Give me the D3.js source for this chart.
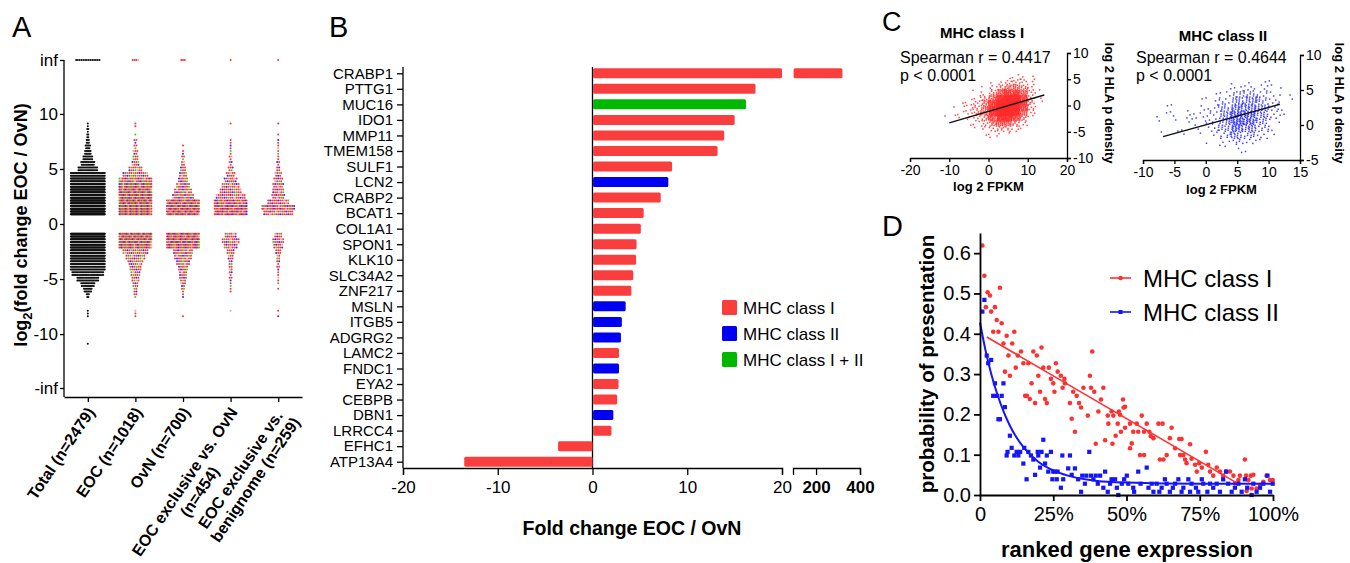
<!DOCTYPE html>
<html>
<head>
<meta charset="utf-8">
<script src="https://cdn.jsdelivr.net/npm/d3@7"></script>
<style>
    body { margin: 0; background: #fff; }
    svg { display: block; font-family: "Liberation Sans", Arial, sans-serif; }
</style>
</head>
<body>
<svg id="fig" width="1350" height="563"></svg>
<script>
/*global d3 */

// ---------------- Panel A data: dot counts per 0.5 log2 bin ----------------
var swarmLabels = [["Total (n=2479)"], ["EOC (n=1018)"], ["OvN (n=700)"],
    ["EOC exclusive vs. OvN", "(n=454)"], ["EOC exclusive vs.", "benignome (n=259)"]];
var swarmInf = [14, 4, 3, 1, 1];
var swarmTotal = [[9.0, 2], [8.5, 3], [8.0, 4], [7.5, 6], [7.0, 9], [6.5, 12], [6.0, 18], [5.5, 25], [5.0, 36],
    [4.5, 80], [4.0, 120], [3.5, 150], [3.0, 170], [2.5, 185], [2.0, 195], [1.5, 205], [1.0, 205],
    [-1.0, 165], [-1.5, 155], [-2.0, 145], [-2.5, 135], [-3.0, 115], [-3.5, 95], [-4.0, 75], [-4.5, 58],
    [-5.0, 40], [-5.5, 25], [-6.0, 15], [-6.5, 5], [-8.0, 2], [-8.5, 1], [-11.0, 1]];
var swarmEOC = [[9.0, 2], [8.0, 1], [7.5, 3], [7.0, 3], [6.5, 5], [6.0, 6], [5.5, 8], [5.0, 14], [4.5, 26],
    [4.0, 42], [3.5, 60], [3.0, 70], [2.5, 76], [2.0, 85], [1.5, 90], [1.0, 90],
    [-1.0, 82], [-1.5, 82], [-2.0, 60], [-2.5, 26], [-3.0, 20], [-3.5, 15], [-4.0, 12], [-4.5, 10],
    [-5.0, 8], [-5.5, 6], [-6.0, 4], [-6.5, 3], [-8.0, 2], [-8.5, 1]];
var swarmOvN = [[7.0, 1], [6.5, 2], [6.0, 3], [5.5, 4], [5.0, 6], [4.5, 8], [4.0, 10], [3.5, 14], [3.0, 18],
    [2.5, 22], [2.0, 62], [1.5, 76], [1.0, 76],
    [-1.0, 70], [-1.5, 76], [-2.0, 56], [-2.5, 20], [-3.0, 18], [-3.5, 14], [-4.0, 10], [-4.5, 8],
    [-5.0, 7], [-5.5, 5], [-6.0, 3], [-6.5, 2], [-8.5, 1]];
var swarmExclOvN = [[9.0, 1], [7.5, 2], [7.0, 2], [6.5, 2], [6.0, 3], [5.5, 3], [5.0, 5], [4.5, 9], [4.0, 13],
    [3.5, 18], [3.0, 22], [2.5, 30], [2.0, 46], [1.5, 56], [1.0, 56],
    [-1.0, 12], [-1.5, 18], [-2.0, 14], [-2.5, 8], [-3.0, 6], [-3.5, 4], [-4.0, 4], [-4.5, 3],
    [-5.0, 3], [-5.5, 2], [-6.0, 2], [-8.0, 1]];
var swarmExclBenign = [[9.0, 1], [8.0, 1], [7.5, 2], [7.0, 2], [6.5, 2], [6.0, 2], [5.5, 3], [5.0, 4], [4.5, 7],
    [4.0, 9], [3.5, 11], [3.0, 12], [2.5, 13], [2.0, 22], [1.5, 40], [1.0, 30],
    [-1.0, 8], [-1.5, 12], [-2.0, 10], [-2.5, 6], [-3.0, 4], [-3.5, 3], [-4.0, 3], [-4.5, 2],
    [-5.0, 2], [-5.5, 1], [-6.0, 1], [-8.0, 1], [-8.5, 1]];
var swarmData = [swarmTotal, swarmEOC, swarmOvN, swarmExclOvN, swarmExclBenign];
// colour order of the dots inside each column (k black, r red, g green, b blue, p pink)
var swarmColors = ["k", "rrgrrbrrgprrbrg", "rrbrrgrprrbrrg", "rrrbrgrrprrb", "rrbrrprgrrbr"];

// ---------------- Panel B data ----------------
var geneNames = ["CRABP1", "PTTG1", "MUC16", "IDO1", "MMP11", "TMEM158", "SULF1", "LCN2", "CRABP2", "BCAT1",
    "COL1A1", "SPON1", "KLK10", "SLC34A2", "ZNF217", "MSLN", "ITGB5", "ADGRG2", "LAMC2", "FNDC1", "EYA2",
    "CEBPB", "DBN1", "LRRCC4", "EFHC1", "ATP13A4"];
var geneFold = [320, 17.2, 16.2, 15.0, 13.9, 13.2, 8.4, 8.0, 7.2, 5.4, 5.1, 4.65, 4.6, 4.3, 4.1, 3.5, 3.1, 3.0,
    2.8, 2.8, 2.75, 2.6, 2.2, 2.0, -3.7, -13.6];
var geneClass = ["I", "I", "I+II", "I", "I", "I", "I", "II", "I", "I", "I", "I", "I", "I", "I", "II", "II", "II",
    "I", "II", "I", "I", "II", "I", "I", "I"];
var classNames = ["I", "II", "I+II"];
var classLabels = ["MHC class I", "MHC class II", "MHC class I + II"];

// ---------------- Panel C data: dot counts in 2 x 1 unit cells ----------------
var scatterIx = [-11, -9, -7, -5, -3, -1, 1, 3, 5, 7, 9, 11, 13];
var scatterIy = [5.5, 4.5, 3.5, 2.5, 1.5, 0.5, -0.5, -1.5, -2.5, -3.5, -4.5, -5.5, -6.5];
var scatterIcounts = [
    [0, 0, 0, 0, 0, 0, 0, 0, 1, 2, 2, 1, 0],
    [0, 0, 0, 0, 0, 0, 1, 2, 4, 6, 4, 2, 0],
    [0, 0, 0, 0, 0, 1, 2, 6, 12, 14, 8, 3, 0],
    [0, 0, 0, 0, 1, 2, 6, 18, 30, 30, 16, 4, 1],
    [0, 0, 0, 1, 2, 5, 14, 40, 60, 55, 28, 6, 1],
    [0, 0, 1, 2, 4, 10, 30, 70, 90, 75, 35, 7, 1],
    [0, 1, 1, 3, 6, 14, 40, 85, 95, 70, 28, 5, 0],
    [1, 1, 2, 3, 6, 14, 38, 70, 70, 45, 16, 3, 0],
    [0, 0, 1, 2, 4, 8, 22, 40, 38, 22, 8, 1, 0],
    [0, 0, 0, 1, 2, 4, 10, 18, 16, 8, 3, 0, 0],
    [0, 0, 0, 0, 1, 2, 4, 7, 5, 2, 1, 0, 0],
    [0, 0, 0, 0, 0, 1, 1, 2, 1, 0, 0, 0, 0],
    [0, 0, 0, 0, 0, 0, 1, 0, 0, 0, 0, 0, 0]];
var scatterIIx = [-7, -5, -3, -1, 1, 3, 5, 7, 9, 11, 13];
var scatterIIy = [6.5, 5.5, 4.5, 3.5, 2.5, 1.5, 0.5, -0.5, -1.5, -2.5, -3.5];
var scatterIIcounts = [
    [0, 0, 0, 0, 0, 0, 0, 1, 1, 1, 0],
    [0, 0, 0, 0, 0, 1, 3, 4, 3, 2, 0],
    [0, 0, 0, 0, 1, 3, 8, 9, 6, 3, 1],
    [0, 0, 0, 1, 2, 6, 14, 16, 10, 4, 1],
    [1, 1, 1, 2, 3, 10, 22, 22, 14, 5, 1],
    [2, 2, 2, 3, 5, 14, 30, 28, 14, 4, 1],
    [1, 1, 2, 2, 5, 14, 32, 26, 12, 3, 0],
    [1, 1, 1, 2, 4, 12, 26, 18, 8, 2, 0],
    [0, 0, 1, 1, 2, 7, 15, 10, 4, 1, 0],
    [0, 0, 0, 0, 1, 3, 6, 4, 1, 0, 0],
    [0, 0, 0, 0, 0, 1, 2, 1, 0, 0, 0]];
var fitI = [[-10, -3.3], [14.2, 2.0]];
var fitII = [[-6.8, -1.67], [11.8, 2.96]];

// ---------------- Panel D data: [ranked expression %, probability] ----------------
var presI = [[0.8, 0.619], [1.5, 0.544], [2.6, 0.503], [3.4, 0.495], [2.0, 0.466], [3.8, 0.455], [5.1, 0.466],
    [6.8, 0.514], [5.7, 0.434], [7.4, 0.426], [4.5, 0.405], [6.3, 0.405], [9.1, 0.395], [11.7, 0.405],
    [8.0, 0.376], [11.0, 0.376], [9.7, 0.346], [12.9, 0.346], [14.0, 0.356], [8.5, 0.306], [10.2, 0.296],
    [12.2, 0.316], [14.8, 0.327], [16.5, 0.327], [18.2, 0.356], [19.4, 0.346], [21.0, 0.366], [21.6, 0.316],
    [17.6, 0.277], [19.9, 0.296], [15.4, 0.246], [16.0, 0.246], [17.0, 0.238], [18.8, 0.228], [20.5, 0.256],
    [22.2, 0.238], [22.8, 0.228], [23.5, 0.316], [24.2, 0.288], [25.0, 0.277], [25.4, 0.256], [25.9, 0.327],
    [26.5, 0.306], [27.6, 0.296], [28.2, 0.266], [28.8, 0.288], [29.0, 0.277], [30.7, 0.228], [31.3, 0.189],
    [32.4, 0.157], [31.8, 0.256], [33.0, 0.246], [33.8, 0.228], [34.5, 0.217], [35.3, 0.266], [36.8, 0.197],
    [37.5, 0.296], [37.9, 0.266], [38.3, 0.356], [39.0, 0.256], [39.5, 0.127], [40.4, 0.207], [41.3, 0.237],
    [42.1, 0.266], [42.7, 0.136], [43.6, 0.197], [43.8, 0.177], [44.9, 0.207], [45.5, 0.197], [45.2, 0.127],
    [46.3, 0.147], [47.0, 0.177], [47.4, 0.207], [48.1, 0.157], [48.8, 0.237], [49.0, 0.217], [49.5, 0.219],
    [47.8, 0.199], [49.5, 0.167], [51.2, 0.177], [52.3, 0.157], [53.5, 0.177], [54.0, 0.157], [55.2, 0.197],
    [56.0, 0.157], [56.9, 0.177], [57.8, 0.157], [58.3, 0.146], [59.2, 0.141], [51.8, 0.128], [51.2, 0.116],
    [54.6, 0.099], [56.0, 0.099], [60.9, 0.177], [62.3, 0.177], [61.4, 0.088], [62.6, 0.088], [63.7, 0.099],
    [65.4, 0.167], [64.8, 0.141], [66.6, 0.116], [68.0, 0.139], [68.8, 0.139], [68.3, 0.099], [69.4, 0.099],
    [70.0, 0.088], [71.7, 0.126], [70.5, 0.079], [72.2, 0.090], [73.4, 0.075], [74.0, 0.058], [74.8, 0.079],
    [75.7, 0.068], [77.1, 0.107], [77.9, 0.075], [78.5, 0.058], [79.6, 0.048], [80.8, 0.068], [81.9, 0.058],
    [83.0, 0.048], [84.0, 0.058], [85.3, 0.058], [86.5, 0.048], [87.0, 0.029], [88.2, 0.037], [88.7, 0.048],
    [90.4, 0.088], [90.8, 0.048], [91.6, 0.037], [92.4, 0.048], [93.3, 0.050], [91.0, 0.010], [92.7, 0.016],
    [94.4, 0.016], [95.6, 0.025], [96.7, 0.033], [97.8, 0.048], [99.0, 0.037], [99.9, 0.037]];
var presII = [[1.5, 0.484], [0.8, 0.455], [2.3, 0.346], [2.8, 0.327], [3.8, 0.335], [5.1, 0.277], [4.5, 0.246],
    [5.7, 0.246], [7.4, 0.246], [6.3, 0.188], [6.8, 0.188], [8.0, 0.277], [8.5, 0.218], [10.2, 0.147],
    [10.8, 0.117], [9.4, 0.107], [9.1, 0.098], [11.7, 0.098], [12.5, 0.107], [13.1, 0.098], [13.7, 0.107],
    [15.1, 0.117], [14.8, 0.078], [15.9, 0.039], [16.5, 0.107], [17.4, 0.098], [18.2, 0.088], [18.8, 0.050],
    [19.7, 0.107], [19.9, 0.098], [20.5, 0.068], [21.0, 0.107], [21.6, 0.137], [22.2, 0.078], [22.8, 0.098],
    [23.3, 0.058], [24.2, 0.107], [25.0, 0.058], [25.6, 0.058], [26.5, 0.058], [24.7, 0.039], [26.2, 0.039],
    [27.6, 0.018], [28.1, 0.098], [28.4, 0.039], [30.1, 0.066], [30.7, 0.098], [31.3, 0.050], [32.4, 0.066],
    [33.5, 0.039], [34.5, 0.008], [34.9, 0.048], [35.8, 0.028], [36.3, 0.048], [37.3, 0.107], [37.9, 0.048],
    [38.7, 0.039], [39.5, 0.048], [40.2, 0.028], [41.0, 0.048], [42.1, 0.018], [42.7, 0.058], [43.6, 0.008],
    [44.4, 0.028], [44.9, 0.039], [46.1, 0.039], [46.7, 0.018], [47.2, 0.0], [48.4, 0.028], [49.2, 0.039],
    [50.1, 0.048], [50.6, 0.028], [52.3, 0.018], [52.6, 0.008], [54.0, 0.058], [54.8, 0.028], [56.9, 0.068],
    [57.5, 0.018], [58.6, 0.028], [59.2, 0.008], [60.3, 0.028], [61.2, 0.008], [62.0, 0.018], [63.1, 0.039],
    [63.7, 0.028], [64.8, 0.008], [65.8, 0.018], [66.6, 0.028], [67.7, 0.039], [68.8, 0.008], [69.4, 0.018],
    [71.1, 0.039], [71.7, 0.008], [72.2, 0.028], [73.7, 0.018], [74.5, 0.008], [75.7, 0.039], [76.2, 0.028],
    [77.6, 0.008], [78.5, 0.028], [79.6, 0.018], [80.8, 0.028], [81.9, 0.008], [83.0, 0.039], [84.0, 0.058],
    [84.7, 0.028], [85.9, 0.008], [87.0, 0.018], [88.2, 0.028], [89.3, 0.008], [90.4, 0.039], [91.2, 0.018],
    [92.7, 0.0], [93.3, 0.028], [94.4, 0.008], [95.6, 0.018], [96.7, 0.028], [98.1, 0.048], [99.0, 0.008],
    [99.9, 0.028]];
var fitPresI = [[2.3, 0.392], [87.6, 0.03]];
var fitPresII = [[0, 0.428], [2, 0.355], [4, 0.296], [6, 0.248], [8, 0.208], [10, 0.175], [12, 0.148],
    [15, 0.117], [20, 0.082], [25, 0.061], [30, 0.048], [40, 0.035], [50, 0.031], [75, 0.028], [100, 0.028]];

var colorMap = { k: "#111", r: "#ff3434", g: "#2fcc2f", b: "#2a2aff", p: "#ff9a9a" };
var barColors = { "I": "#fa3e3e", "II": "#0000f2", "I+II": "#00b800" };

var svg = d3.select("#fig");

// plain hyphen for negative tick labels, like the original figure
function plainNumber(d) {
    return String(d);
}

/**
 * Strip d3's default axis font settings and apply ours
 */
function styleAxis(sel, fontSize, bold) {
    sel.attr("font-size", null).attr("font-family", null);
    sel.selectAll("path, line").attr("stroke", "#000").attr("stroke-width", 1.3);
    sel.selectAll("text").attr("fill", "#000").style("font-size", fontSize + "px")
        .style("font-weight", bold ? "bold" : "normal");
}

function panelLetter(text, x, y, size) {
    svg.append("text").attr("x", x).attr("y", y).style("font-size", size + "px").text(text);
}

// ---------------- Panel A ----------------
function drawSwarm() {
    var g = svg.append("g"),
        infValue = 14.9,
        axisY = 397,
        x = d3.scalePoint().domain(d3.range(swarmLabels.length)).range([64, 302]).padding(0.5),
        y = d3.scaleLinear().domain([-infValue, infValue]).range([388, 60]);

    panelLetter("A", 12, 37, 29);

    var ya = g.append("g").attr("transform", "translate(64,0)")
        .call(d3.axisLeft(y).tickValues([-infValue, -10, -5, 0, 5, 10, infValue]).tickSize(4).tickPadding(2)
            .tickFormat(function (d) {
                return d === infValue ? "inf" : (d === -infValue ? "-inf" : String(d));
            }));
    ya.select(".domain").remove();
    styleAxis(ya, 17);
    g.append("line").attr("x1", 64).attr("x2", 64).attr("y1", y(infValue)).attr("y2", axisY)
        .attr("stroke", "#000").attr("stroke-width", 1.3);

    var xa = g.append("g").attr("transform", "translate(0," + axisY + ")")
        .call(d3.axisBottom(x).tickSize(5).tickSizeOuter(0).tickFormat(""));
    styleAxis(xa, 16);

    // dots: two rows per bin, spread sideways
    var dots = [];
    swarmData.forEach(function (bins, c) {
        var pattern = swarmColors[c],
            gap = c === 0 ? 1.1 : 2.0,
            half = c === 0 ? 17 : 16,
            idx = 0;
        bins.forEach(function (b) {
            var perRow = [Math.ceil(b[1] / 2), Math.floor(b[1] / 2)];
            perRow.forEach(function (n, r) {
                var step = Math.min(gap, n > 1 ? 2 * half / (n - 1) : gap),
                    k;
                for (k = 0; k < n; k++) {
                    dots.push({
                        cx: x(c) + (k - (n - 1) / 2) * step,
                        cy: y(b[0]) + (r - 0.5) * 2.75,
                        color: colorMap[pattern[idx % pattern.length]]
                    });
                    idx++;
                }
            });
        });
        // values at +inf
        var n = swarmInf[c], k;
        for (k = 0; k < n; k++) {
            dots.push({
                cx: x(c) + (k - (n - 1) / 2) * 1.8,
                cy: y(infValue),
                color: colorMap[pattern[(k * 3) % pattern.length]]
            });
        }
    });
    g.append("g").selectAll("circle").data(dots).enter().append("circle")
        .attr("cx", function (d) { return d.cx; })
        .attr("cy", function (d) { return d.cy; })
        .attr("r", 1.0)
        .attr("fill", function (d) { return d.color; });

    // rotated category labels, lines centred inside their block
    swarmLabels.forEach(function (lines, i) {
        var lg = g.append("g").attr("transform", "translate(" + (x(i) + 3) + "," + (axisY + 12) + ") rotate(-56)");
        var texts = lines.map(function (t, j) {
            return lg.append("text").attr("y", j * 18).attr("dy", "0.35em").attr("text-anchor", "middle")
                .style("font-size", "16px").style("font-weight", "bold").text(t);
        });
        var maxW = d3.max(texts, function (t) { return t.node().getComputedTextLength(); });
        texts.forEach(function (t) { t.attr("x", -maxW / 2); });
    });

    var title = g.append("text").attr("transform", "translate(27,225) rotate(-90)")
        .attr("text-anchor", "middle").style("font-size", "18px").style("font-weight", "bold");
    title.append("tspan").text("log");
    title.append("tspan").attr("dy", 5).style("font-size", "13px").text("2");
    title.append("tspan").attr("dy", -5).text("(fold change EOC / OvN)");
}

// ---------------- Panel B ----------------
function drawBars() {
    var g = svg.append("g"),
        axisY = 468,
        x1 = d3.scaleLinear().domain([-20, 20]).range([403, 782]),
        x2 = d3.scaleLinear().domain([95, 400]).range([793, 860]),
        y = d3.scalePoint().domain(geneNames).range([73.3, 461.7]),
        barH = 10;

    panelLetter("B", 329, 37, 29);

    var ya = g.append("g").attr("transform", "translate(403,0)")
        .call(d3.axisLeft(y).tickSize(6).tickPadding(4).tickSizeOuter(0));
    ya.select(".domain").attr("d", "M0,67V" + axisY);
    styleAxis(ya, 15);

    var xa1 = g.append("g").attr("transform", "translate(0," + axisY + ")")
        .call(d3.axisBottom(x1).tickValues([-20, -10, 0, 10, 20]).tickSize(7).tickPadding(6)
            .tickFormat(plainNumber));
    styleAxis(xa1, 17);
    var xa2 = g.append("g").attr("transform", "translate(0," + axisY + ")")
        .call(d3.axisBottom(x2).tickValues([200, 400]).tickSize(7).tickPadding(6).tickFormat(plainNumber));
    styleAxis(xa2, 17, true);

    // zero line
    g.append("line").attr("x1", x1(0)).attr("x2", x1(0)).attr("y1", 67).attr("y2", axisY)
        .attr("stroke", "#000").attr("stroke-width", 1.3);

    var rows = geneNames.map(function (n, i) {
        return { name: n, value: geneFold[i], cls: geneClass[i] };
    });
    var parts = [];
    rows.forEach(function (d) {
        var v = Math.min(d.value, 20);
        parts.push({ x0: x1(Math.min(0, v)), x1: x1(Math.max(0, v)), name: d.name, cls: d.cls });
        if (d.value > 20) {
            parts.push({ x0: x2(x2.domain()[0]), x1: x2(d.value), name: d.name, cls: d.cls });
        }
    });
    g.append("g").selectAll("rect").data(parts).enter().append("rect")
        .attr("x", function (d) { return d.x0 + 0.6; })
        .attr("width", function (d) { return d.x1 - d.x0 - 0.6; })
        .attr("y", function (d) { return y(d.name) - barH / 2; })
        .attr("height", barH).attr("rx", 1.5)
        .attr("fill", function (d) { return barColors[d.cls]; });

    // legend
    var lg = g.append("g").selectAll("g").data(classNames).enter().append("g")
        .attr("transform", function (d, i) { return "translate(722," + (300 + i * 26) + ")"; });
    lg.append("rect").attr("width", 15).attr("height", 15).attr("rx", 1.5)
        .attr("fill", function (d) { return barColors[d]; });
    lg.append("text").attr("x", 21).attr("y", 7.5).attr("dy", "0.36em").style("font-size", "17px")
        .text(function (d, i) { return classLabels[i]; });

    g.append("text").attr("x", 632).attr("y", 535).attr("text-anchor", "middle")
        .style("font-size", "19.5px").style("font-weight", "bold").text("Fold change EOC / OvN");
}

// ---------------- Panel C ----------------
function drawScatter(opt) {
    var g = svg.append("g"),
        x = d3.scaleLinear().domain(opt.xDomain).range(opt.xRange),
        y = d3.scaleLinear().domain(opt.yDomain).range(opt.yRange),
        dx = opt.cellX[1] - opt.cellX[0],
        dy = opt.cellY[0] - opt.cellY[1],
        pts = [];

    // spread each cell's count evenly over the cell
    opt.counts.forEach(function (row, j) {
        row.forEach(function (n, i) {
            var k, u, v;
            for (k = 0; k < n; k++) {
                u = (0.5 + (k + 1) * 0.7548777 + i * 0.311 + j * 0.173) % 1;
                v = (0.5 + (k + 1) * 0.5698403 + i * 0.137 + j * 0.419) % 1;
                pts.push([opt.cellX[i] + (u - 0.5) * dx, opt.cellY[j] + (v - 0.5) * dy]);
            }
        });
    });
    g.append("g").selectAll("rect").data(pts).enter().append("rect")
        .attr("x", function (d) { return x(d[0]) - 0.75; })
        .attr("y", function (d) { return y(d[1]) - 0.75; })
        .attr("width", 1.5).attr("height", 1.5)
        .attr("fill", opt.color).attr("opacity", 0.85);

    g.append("path").datum(opt.fit)
        .attr("d", d3.line().x(function (d) { return x(d[0]); }).y(function (d) { return y(d[1]); }))
        .attr("stroke", "#111").attr("stroke-width", 1.4).attr("fill", "none");

    var xa = g.append("g").attr("transform", "translate(0," + opt.yRange[0] + ")")
        .call(d3.axisBottom(x).ticks(opt.xTicks).tickSize(4).tickPadding(3).tickFormat(plainNumber));
    styleAxis(xa, 14);
    var ya = g.append("g").attr("transform", "translate(" + opt.xRange[1] + ",0)")
        .call(d3.axisRight(y).ticks(opt.yTicks).tickSize(4).tickPadding(2).tickFormat(plainNumber));
    styleAxis(ya, 14);

    g.append("text").attr("x", opt.titleX).attr("y", opt.titleY).attr("text-anchor", "middle")
        .style("font-size", "15px").style("font-weight", "bold").text(opt.title);
    g.append("text").attr("x", opt.textX).attr("y", 63).style("font-size", "16px").text(opt.stat);
    g.append("text").attr("x", opt.textX).attr("y", 81).style("font-size", "16px").text("p < 0.0001");
    g.append("text").attr("x", (opt.xRange[0] + opt.xRange[1]) / 2).attr("y", opt.xTitleY)
        .attr("text-anchor", "middle").style("font-size", "13px").style("font-weight", "bold").text("log 2 FPKM");
    g.append("text").attr("transform", "translate(" + opt.yTitleX + ",103) rotate(90)")
        .attr("text-anchor", "middle").style("font-size", "13px").style("font-weight", "bold")
        .text("log 2 HLA p density");
}

// ---------------- Panel D ----------------
function drawPresentation() {
    var g = svg.append("g"),
        x = d3.scaleLinear().domain([0, 100]).range([980, 1273]),
        y = d3.scaleLinear().domain([0, 0.65]).range([495, 233]),
        red = "#ff3030",
        blue = "#1414ff";

    panelLetter("D", 882, 236, 29);

    var line = d3.line().x(function (d) { return x(d[0]); }).y(function (d) { return y(d[1]); });

    g.append("g").selectAll("circle").data(presI).enter().append("circle")
        .attr("cx", function (d) { return x(d[0]); })
        .attr("cy", function (d) { return y(d[1]); })
        .attr("r", 2.3).attr("fill", red);
    g.append("g").selectAll("rect").data(presII).enter().append("rect")
        .attr("x", function (d) { return x(d[0]) - 2.1; })
        .attr("y", function (d) { return y(d[1]) - 2.1; })
        .attr("width", 4.2).attr("height", 4.2).attr("fill", blue);

    g.append("path").datum(fitPresI).attr("d", line)
        .attr("stroke", red).attr("stroke-width", 1.6).attr("fill", "none");
    g.append("path").datum(fitPresII).attr("d", line.curve(d3.curveMonotoneX))
        .attr("stroke", blue).attr("stroke-width", 2).attr("fill", "none");

    var xa = g.append("g").attr("transform", "translate(0,495)")
        .call(d3.axisBottom(x).tickValues([0, 25, 50, 75, 100]).tickSize(6).tickPadding(6).tickSizeOuter(0)
            .tickFormat(function (d) { return d === 0 ? "0" : d + "%"; }));
    styleAxis(xa, 20);
    var ya = g.append("g").attr("transform", "translate(980,0)")
        .call(d3.axisLeft(y).tickValues([0, 0.1, 0.2, 0.3, 0.4, 0.5, 0.6]).tickSize(6).tickPadding(3)
            .tickSizeOuter(0).tickFormat(d3.format(".1f")));
    styleAxis(ya, 20);
    xa.selectAll(".domain, line").attr("stroke-width", 1.8);
    ya.selectAll(".domain, line").attr("stroke-width", 1.8);

    // legend
    var legend = [["MHC class I", red, "circle"], ["MHC class II", blue, "square"]];
    var lg = g.append("g").selectAll("g").data(legend).enter().append("g")
        .attr("transform", function (d, i) { return "translate(1110," + (278 + i * 34) + ")"; });
    lg.append("line").attr("x1", 0).attr("x2", 21).attr("stroke", function (d) { return d[1]; })
        .attr("stroke-width", 1.6);
    lg.filter(function (d) { return d[2] === "circle"; }).append("circle")
        .attr("cx", 10.5).attr("r", 2.2).attr("fill", red);
    lg.filter(function (d) { return d[2] === "square"; }).append("rect")
        .attr("x", 8.5).attr("y", -2).attr("width", 4).attr("height", 4).attr("fill", blue);
    lg.append("text").attr("x", 33).attr("dy", "0.36em").style("font-size", "24px")
        .text(function (d) { return d[0]; });

    g.append("text").attr("transform", "translate(934,364) rotate(-90)").attr("text-anchor", "middle")
        .style("font-size", "20.5px").style("font-weight", "bold").text("probability of presentation");
    g.append("text").attr("x", 1127).attr("y", 557).attr("text-anchor", "middle")
        .style("font-size", "22px").style("font-weight", "bold").text("ranked gene expression");
}

drawSwarm();
drawBars();
panelLetter("C", 882, 31, 27);
drawScatter({
    xDomain: [-20, 20], xRange: [910, 1067], yDomain: [-10, 10], yRange: [158, 53],
    xTicks: 5, yTicks: 5, cellX: scatterIx, cellY: scatterIy, counts: scatterIcounts,
    color: "#ff2a2a", fit: fitI, title: "MHC class I", titleX: 982, titleY: 38,
    stat: "Spearman r = 0.4417", textX: 900, xTitleY: 191, yTitleX: 1105
});
drawScatter({
    xDomain: [-10, 15], xRange: [1143, 1300], yDomain: [-5, 10], yRange: [160, 55],
    xTicks: 5, yTicks: 4, cellX: scatterIIx, cellY: scatterIIy, counts: scatterIIcounts,
    color: "#2424ff", fit: fitII, title: "MHC class II", titleX: 1223, titleY: 41,
    stat: "Spearman r = 0.4644", textX: 1136, xTitleY: 194, yTitleX: 1335
});
drawPresentation();
</script>
</body>
</html>
